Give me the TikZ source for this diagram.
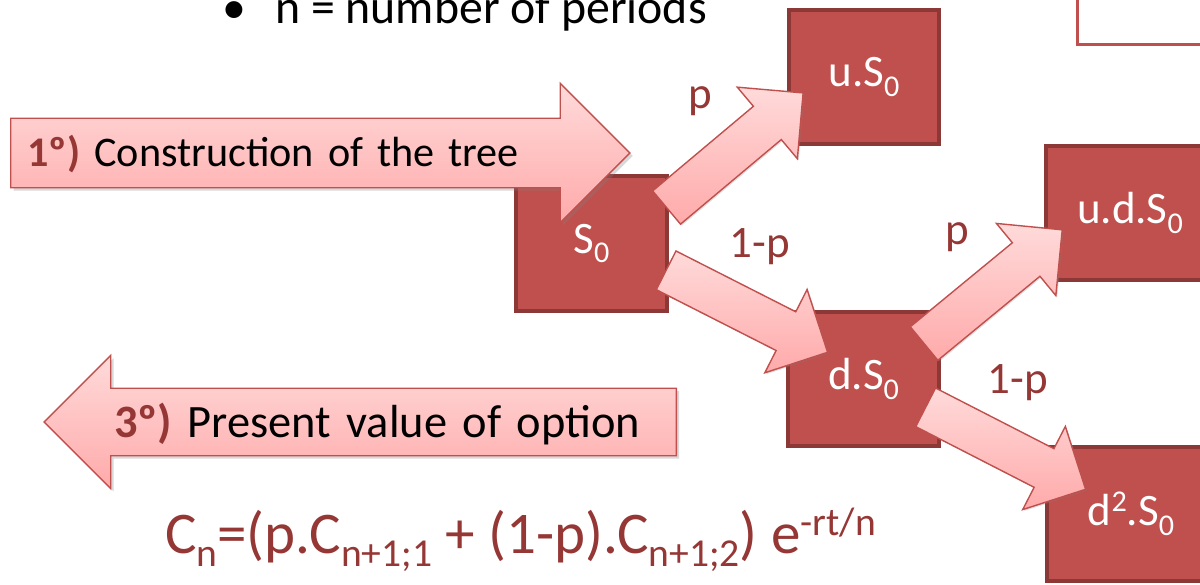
\documentclass[tikz,border=0pt]{standalone}
\usepackage{fontspec}
\setmainfont{Carlito}
\usepackage{graphicx}
\usetikzlibrary{shapes.arrows,calc,shadows}
\definecolor{boxred}{HTML}{C0504D}
\definecolor{boxedge}{HTML}{8C3836}
\definecolor{darkred}{HTML}{953735}
\definecolor{pinklt}{HTML}{FFDADA}
\definecolor{pinkdk}{HTML}{FFAAAA}
\tikzset{
  box/.style    ={draw=boxedge, fill=boxred, line width=1mm, minimum width=37.5mm, minimum height=33.5mm, text=white, font=\fontsize{32}{38}\selectfont},
  widebox/.style={box, minimum width=42mm},
  fat/.style    ={single arrow, draw=boxred, line width=0.35mm, top color=pinklt, bottom color=pinkdk, single arrow tip angle=90, single arrow head extend=6.25mm, inner xsep=0pt, inner ysep=5.25mm, minimum width=0pt, drop shadow={opacity=.25, shadow xshift=1pt, shadow yshift=-1pt}},
  big/.style    ={single arrow, draw=boxred, line width=0.35mm, top color=pinklt, bottom color=pinkdk, single arrow tip angle=90, text depth=0pt, drop shadow={opacity=.3, shadow xshift=2pt, shadow yshift=-2pt}},
  lbl/.style    ={text=darkred, font=\fontsize{32}{38}\selectfont, inner sep=0pt},
}
\newcommand{\lo}[1]{\raisebox{-.22em}{\scalebox{.67}{#1}}}
\newcommand{\hi}[1]{\raisebox{.3em}{\scalebox{.67}{#1}}}
\newcommand{\stepno}[1]{{\bfseries\color{darkred}#1}}
\newcommand{\fatlink}[2]{%
  \path let \p1=(#1), \p2=(#2), \n1={atan2(\y2-\y1,\x2-\x1)}, \n2={veclen(\x2-\x1,\y2-\y1)}
    in node[fat, rotate=\n1, minimum height=\n2, anchor=tail] at (#1) {};}

\begin{document}
\begin{tikzpicture}[x=0.025cm, y=-0.025cm]
  \useasboundingbox (0,0) rectangle (1200,584);
  \clip (0,0) rectangle (1200,584);

  \node[anchor=base west, inner sep=0pt, font=\fontsize{34}{40}\selectfont] (periods) at (222,24) {\makebox[13.25mm][l]{•}n = number of periods};
  \node[draw=boxred, line width=0.75mm, fill=white, minimum width=45.5mm, minimum height=26mm] (corner) at (1169,-8) {};

  \node[box] (s0) at (591.5,243.5) {S\lo{0}};
  \node[box] (us) at (864,77) {u.S\lo{0}};
  \node[box] (ds) at (863.5,379) {d.S\lo{0}};
  \node[widebox] (uds) at (1130,213) {u.d.S\lo{0}};
  \node[widebox] (dds) at (1131,514) {d\hi{2}.S\lo{0}};

  \node[big, font=\fontsize{30}{36}\selectfont, text height=6.8mm, single arrow head extend=8.75mm, inner ysep=5.1mm, inner xsep=4mm, text width=137.75mm, align=left, anchor=tail] (build) at (10,153) {\stepno{1º)} Construction of the tree};

  \fatlink{$(s0.north east)+(-2.5,33.5)$}{$(us.south west)+(16,-53)$}
  \fatlink{$(s0.east)+(-3,26.5)$}{$(ds.north west)+(40.5,42)$}
  \fatlink{$(ds.north east)+(-17,34)$}{$(uds.west)+(18,17)$}
  \fatlink{$(ds.east)+(-15.5,28)$}{$(dds.north west)+(40,44)$}

  \node[lbl] (pa) at (700,101) {p};
  \node[lbl] (qa) at (760,247) {1-p};
  \node[lbl] (pb) at (957,237) {p};
  \node[lbl] (qb) at (1018,383) {1-p};

  \node[big, shape border rotate=180, font=\fontsize{33}{40}\selectfont, text height=7.5mm, single arrow head extend=8.25mm, inner ysep=4.5mm, inner xsep=2mm, text width=145.25mm, align=center, anchor=tail] (present) at (677,422) {\stepno{3º)} Present value of option};

  \node[anchor=base west, inner sep=0pt, text=darkred, font=\fontsize{42}{50}\selectfont] (formula) at (165,553) {C\lo{n}=(p.C\lo{n+1;1} + (1-p).C\lo{n+1;2}) e\hi{-rt/n}};
\end{tikzpicture}
\end{document}
